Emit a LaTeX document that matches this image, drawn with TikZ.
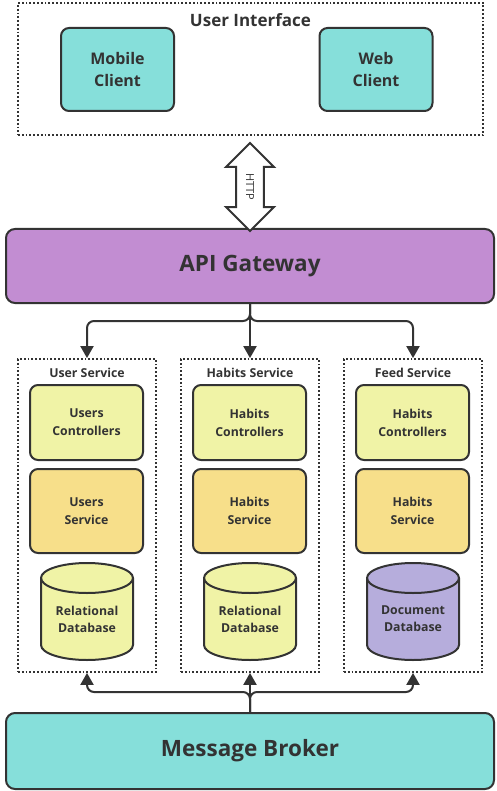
\documentclass[tikz,border=0pt]{standalone}
\usepackage{fontspec}
\setmainfont{Open Sans}
\usetikzlibrary{arrows.meta,shapes.arrows,positioning}
\definecolor{ink}{HTML}{333333}
\definecolor{teal}{HTML}{86DFDA}
\definecolor{gwpurple}{HTML}{C28DD2}
\definecolor{ctrlyellow}{HTML}{F0F3A6}
\definecolor{svcyellow}{HTML}{F7DF8A}
\definecolor{docdb}{HTML}{B6ADDC}
\tikzset{
  x=1pt,y=1pt,
  every node/.style={text=ink, font=\bfseries, align=center},
  dotbox/.style={draw=ink, line width=1.8pt, dotted},
  clientbox/.style={draw=ink, line width=2pt, fill=teal, rounded corners=8pt, minimum width=113pt, minimum height=83pt, font=\bfseries\fontsize{16}{22}\selectfont},
  bigbar/.style={draw=ink, line width=2pt, rounded corners=9pt, minimum width=488pt, font=\bfseries\fontsize{22.5}{26}\selectfont},
  svcbox/.style={draw=ink, line width=2pt, rounded corners=8pt, minimum width=113pt, font=\bfseries\fontsize{12.3}{18}\selectfont},
  title/.style={font=\bfseries\fontsize{12.3}{14}\selectfont},
  arr/.style={draw=ink, line width=2pt, rounded corners=7pt, -{Triangle[width=13pt,length=12pt]}},
  cyl/.style={draw=ink, line width=2pt},
  dbtext/.style={font=\bfseries\fontsize{12.3}{17}\selectfont}
}
\newcommand{\mycyl}[2]{%
  \filldraw[cyl, fill=#2] (#1-46,-578) -- (#1-46,-645)
    arc[start angle=180, end angle=360, x radius=46, y radius=15]
    -- (#1+46,-578)
    arc[start angle=0, end angle=180, x radius=46, y radius=15] -- cycle;
  \draw[cyl] (#1-46,-578) arc[start angle=180, end angle=360, x radius=46, y radius=15];
}
\begin{document}
\begin{tikzpicture}
\useasboundingbox (0,0) rectangle (497,-791);
% User interface
\node[dotbox, minimum width=465pt, minimum height=132pt] (ui) at (250.5,-69) {};
\node[font=\bfseries\fontsize{17}{19}\selectfont] (uit) at (250.5,-20) {User Interface};
\node[clientbox] (mob) at (117.5,-69.5) {Mobile\\Client};
\node[clientbox] (web) at (376,-69.5) {Web\\Client};
% API gateway
\node[bigbar, fill=gwpurple, minimum height=74pt] (gw) at (250,-266) {API Gateway};
% HTTP double arrow
\node[double arrow, draw=ink, line width=2pt, fill=white, rotate=-90,
      minimum height=88pt, inner sep=9pt, double arrow head extend=10pt] (http) at (250,-187) {\normalfont\fontsize{11}{12}\selectfont HTTP};
% Services
\foreach \cx/\nm/\tt in {87/us/User Service, 250/hs/Habits Service, 413/fs/Feed Service}{
  \node[dotbox, minimum width=138pt, minimum height=313pt] (\nm) at (\cx,-515.5) {};
  \node[title] (\nm t) at (\cx,-373) {\tt};
}
\node[svcbox, fill=ctrlyellow, minimum height=75pt] (uc) at (86.5,-422.5) {Users\\Controllers};
\node[svcbox, fill=ctrlyellow, minimum height=75pt] (hc) at (249.5,-422.5) {Habits\\Controllers};
\node[svcbox, fill=ctrlyellow, minimum height=75pt] (fc) at (412.5,-422.5) {Habits\\Controllers};
\node[svcbox, fill=svcyellow, minimum height=84pt] (usv) at (86.5,-511) {Users\\Service};
\node[svcbox, fill=svcyellow, minimum height=84pt] (hsv) at (249.5,-511) {Habits\\Service};
\node[svcbox, fill=svcyellow, minimum height=84pt] (fsv) at (412.5,-511) {Habits\\Service};
\mycyl{87}{ctrlyellow}
\mycyl{250}{ctrlyellow}
\mycyl{413}{docdb}
\node[dbtext] (udb) at (87,-619) {Relational\\Database};
\node[dbtext] (hdb) at (250,-619) {Relational\\Database};
\node[dbtext] (fdb) at (413,-619) {Document\\Database};
% Message broker
\node[bigbar, fill=teal, minimum height=76pt] (mb) at (250,-751) {Message Broker};
% connectors
\draw[arr] (gw.south) -- ++(0,-17) -| (us.north);
\draw[arr] (gw.south) -- (hs.north);
\draw[arr] (gw.south) -- ++(0,-17) -| (fs.north);
\draw[arr] (mb.north) -- ++(0,20) -| (us.south);
\draw[arr] (mb.north) -- (hs.south);
\draw[arr] (mb.north) -- ++(0,20) -| (fs.south);
\end{tikzpicture}
\end{document}
